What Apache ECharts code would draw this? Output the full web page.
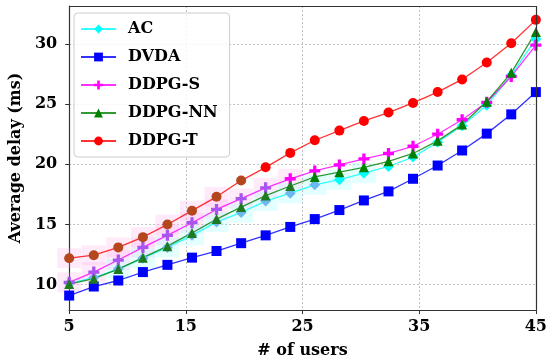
<!DOCTYPE html>
<html><head><meta charset="utf-8">
<script src="https://cdn.jsdelivr.net/npm/echarts@6/dist/echarts.min.js"></script>
<style>html,body{margin:0;padding:0;background:#fff}#c{width:550px;height:364px}</style>
</head><body><div id="c"></div>
<script>
const users = [5, 7.11, 9.21, 11.32, 13.42, 15.53, 17.63, 19.74, 21.84, 23.95, 26.05, 28.16, 30.26, 32.37, 34.47, 36.58, 38.68, 40.79, 42.89, 45];
const acDelay = [10.1, 10.6, 11.3, 12.2, 13.1, 14.1, 15.2, 16.0, 16.95, 17.6, 18.3, 18.72, 19.27, 19.82, 20.6, 21.83, 23.2, 24.9, 27.4, 30.4];
const dvdaDelay = [9.1, 9.85, 10.35, 11.05, 11.65, 12.25, 12.8, 13.45, 14.1, 14.8, 15.45, 16.2, 17.0, 17.75, 18.8, 19.9, 21.15, 22.55, 24.15, 26.0];
const ddpgSDelay = [10.2, 11.05, 12.05, 13.1, 14.1, 15.15, 16.25, 17.15, 18.05, 18.8, 19.45, 19.95, 20.45, 20.9, 21.5, 22.5, 23.7, 25.15, 27.3, 29.9];
const ddpgNNDelay = [10.05, 10.5, 11.3, 12.25, 13.2, 14.3, 15.45, 16.45, 17.4, 18.2, 18.95, 19.35, 19.75, 20.25, 20.9, 21.95, 23.3, 25.2, 27.6, 31.0];
const ddpgTDelay = [12.2, 12.45, 13.1, 13.95, 15.0, 16.15, 17.3, 18.65, 19.75, 20.95, 22.0, 22.8, 23.6, 24.3, 25.1, 26.0, 27.05, 28.45, 30.05, 32.0];
const xTicks = [5, 15, 25, 35, 45];
const yTicks = [10, 15, 20, 25, 30];

const FONT = "'DejaVu Serif', serif";
const plusPath = 'path://M3.5,0H6.5V3.5H10V6.5H6.5V10H3.5V6.5H0V3.5H3.5Z';

// early points in the reference appear tinted by an overlay
function mk(name, vals, color, symbol, size, tint, tintUpTo) {
  return {
    name, type: 'line', z: 3,
    data: users.map((u, i) => {
      const d = { value: [u, vals[i]] };
      if (tint && i <= tintUpTo) d.itemStyle = { color: tint };
      return d;
    }),
    symbol, symbolSize: size,
    lineStyle: { color, width: 1.3, opacity: 0.8 },
    itemStyle: { color, borderWidth: 0 },
    emphasis: { disabled: true },
    animation: false
  };
}

// translucent blocky shading around early points
function band(vals, from, to, fill) {
  return {
    type: 'custom', z: 1, silent: true, animation: false,
    data: users.map((u, i) => [u, vals[i], i]).filter(d => d[2] >= from && d[2] <= to),
    renderItem: (params, api) => {
      const p = api.coord([api.value(0), api.value(1)]);
      return { type: 'rect', shape: { x: p[0] - 12, y: p[1] - 10, width: 24, height: 20 },
               style: { fill } };
    }
  };
}

const chart = echarts.init(document.getElementById('c'), null, { renderer: 'canvas' });
chart.setOption({
  animation: false,
  grid: { left: 66, right: 14, top: 6, bottom: 53, containLabel: false },
  legend: {
    orient: 'vertical', left: 74, top: 13,
    itemWidth: 35, itemHeight: 11, itemGap: 12,
    padding: [8, 12, 8, 6],
    backgroundColor: 'rgba(255,255,255,0.85)',
    borderColor: '#cccccc', borderWidth: 1, borderRadius: 4,
    textStyle: { fontFamily: FONT, fontWeight: 'bold', fontSize: 16, color: '#000', padding: [0, 0, 0, 7] },
    data: ['AC', 'DVDA', 'DDPG-S', 'DDPG-NN', 'DDPG-T']
  },
  xAxis: {
    type: 'value', min: 5, max: 45,
    name: '# of users', nameLocation: 'middle', nameGap: 33,
    nameTextStyle: { fontFamily: FONT, fontWeight: 'bold', fontSize: 16, color: '#000' },
    axisLine: { show: true, onZero: false, lineStyle: { color: '#333', width: 1.2 } },
    axisTick: { show: true, inside: false, length: 4, customValues: xTicks, lineStyle: { color: '#333' } },
    axisLabel: { customValues: xTicks, margin: 9, fontFamily: FONT, fontWeight: 'bold', fontSize: 16, color: '#000' },
    splitLine: { show: true, lineStyle: { color: '#b0b0b0', type: [2, 2], width: 0.8 } }
  },
  yAxis: {
    type: 'value', min: 7.9, max: 33.15,
    name: 'Average delay (ms)', nameLocation: 'middle', nameGap: 44,
    nameTextStyle: { fontFamily: FONT, fontWeight: 'bold', fontSize: 16, color: '#000' },
    axisLine: { show: true, onZero: false, lineStyle: { color: '#333', width: 1.2 } },
    axisTick: { show: true, inside: false, length: 4, customValues: yTicks, lineStyle: { color: '#333' } },
    axisLabel: { customValues: yTicks, margin: 12, fontFamily: FONT, fontWeight: 'bold', fontSize: 16, color: '#000' },
    splitLine: { show: true, lineStyle: { color: '#b0b0b0', type: [2, 2], width: 0.8 } }
  },
  series: [
    band(ddpgTDelay, 0, 6, 'rgba(255,160,230,0.22)'),
    band(ddpgSDelay, 0, 9, 'rgba(255,160,230,0.22)'),
    band(acDelay, 2, 12, 'rgba(120,255,255,0.2)'),
    mk('AC', acDelay, '#00ffff', 'diamond', 11, '#6cb8ee', 10),
    mk('DVDA', dvdaDelay, '#0000ff', 'rect', 10),
    mk('DDPG-S', ddpgSDelay, '#ff00ff', plusPath, 11, '#a855f0', 8),
    mk('DDPG-NN', ddpgNNDelay, '#008000', 'triangle', 10, '#1f7a1f', 9),
    mk('DDPG-T', ddpgTDelay, '#ff0000', 'circle', 10, '#b5471f', 7),
    {
      type: 'line', data: [], silent: true,
      markLine: { silent: true, symbol: 'none', label: { show: false },
        lineStyle: { color: '#333', width: 1.2, type: 'solid' },
        data: [[{ coord: [45, 7.9] }, { coord: [45, 33.15] }], [{ coord: [5, 33.15] }, { coord: [45, 33.15] }]] }
    }
  ]
});
</script></body></html>
